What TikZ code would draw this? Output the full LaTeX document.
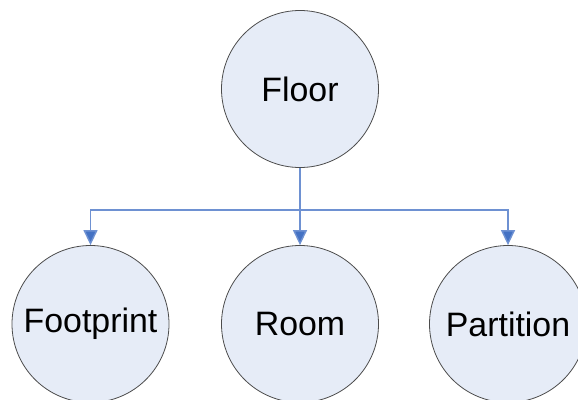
\documentclass[tikz,border=0pt]{standalone}
\usepackage{fontspec}
\setmainfont{Liberation Sans}
\usetikzlibrary{arrows.meta}

\begin{document}
\begin{tikzpicture}[x=1bp,y=1bp]
      \tikzstyle{every node}+=[inner sep=0pt]
      \tikzstyle{part}=[circle,draw=black!70,line width=0.8bp,fill={rgb,255:red,230;green,236;blue,247},minimum size=157bp,font=\fontsize{34}{38}\selectfont]
      \tikzstyle{link}=[draw={rgb,255:red,110;green,145;blue,210},line width=1.4bp,-{Triangle[length=15bp,width=14bp,fill={rgb,255:red,68;green,114;blue,196}]}]
      \useasboundingbox (0,0) rectangle (578,399);
      \node [part] (floor) at (300,310) {Floor};
      \node [part] (foot) at (90.5,75) {Footprint};
      \node [part] (room) at (300,75) {Room};
      \node [part] (partn) at (508,75) {Partition};
      \coordinate (split) at (300,189);
      \draw [link] (floor) -- (room);
      \draw [link] (split) -| (foot);
      \draw [link] (split) -| (partn);
\end{tikzpicture}
\end{document}
